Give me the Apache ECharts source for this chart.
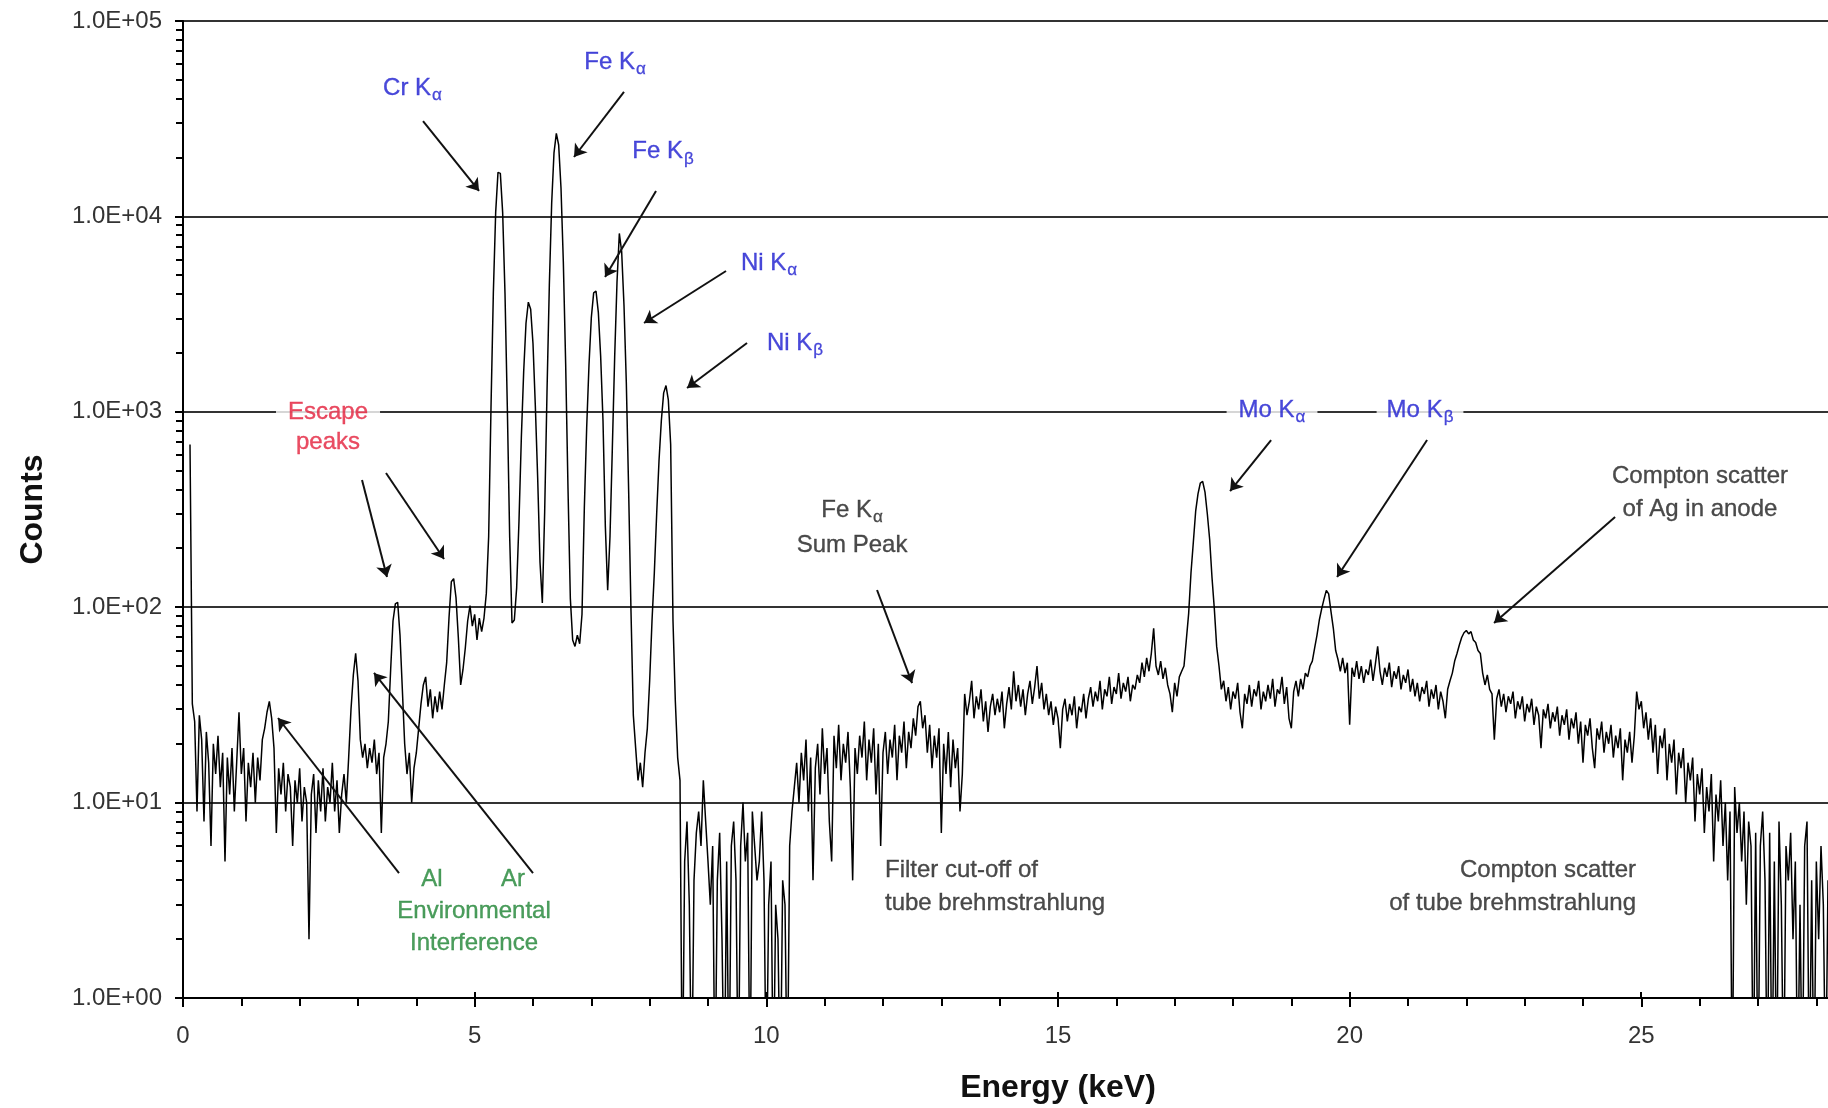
<!DOCTYPE html>
<html>
<head>
<meta charset="utf-8">
<script src="https://cdn.jsdelivr.net/npm/echarts@6/dist/echarts.min.js"></script>
<style>
html,body{margin:0;padding:0;background:#fff;}
#chart{width:1828px;height:1108px;}
</style>
</head>
<body>
<div id="chart"></div>
<script>
const FONT = '"Liberation Sans", Arial, Helvetica, sans-serif';

// Spectrum: one value per 0.04 keV channel, first channel at 0.00 keV (null = no data)
const channelWidth = 0.04;
const keV0to5 = [
  null,null,null,680,32,26,9,28,21,8,23,16,6,20,14,22,12,18,5,17,11,19,9,16,29,
  14,19,8,16,12,18,10,17,13,21,24,29,33,27,19,7,15,11,16,9,14,12,6,13,10,
  15,8,12,10,2,11,14,7,13,9,15,8,12,10,16,9,13,7,11,14,10,17,30,45,58,
  42,21,17,20,15,19,16,21,14,18,7,17,20,26,48,85,104,106,72,38,20,14,18,10,15,
  18,24,32,40,44,31,38,27,35,29,37,30,40,52,88,135,140,112,70,40,48,62,85,102,80
];
const keV5to9 = [
  92,68,88,75,88,118,230,1050,4030,10450,16800,16600,10450,4030,1050,230,83,86,126,277,735,1600,2840,3640,3350,
  2230,1070,460,170,105,306,1260,4440,11630,21150,26600,23200,13980,5840,1755,405,111,68,63,72,65,92,322,827,1740,
  3040,4060,4150,3230,1920,900,260,122,230,650,1900,4600,8180,6600,3500,1400,390,95,28,19,13,16,12,18,24,
  42,85,150,300,560,900,1250,1362,1150,680,85,33,17,13,0,5,8,3,0,4,7,9,6,13,8
];
const keV9to13 = [
  5,3,6,0,4,7,2,0,5,0,6,8,4,0,6,10,5,7,0,9,6,4,5,9,4,
  0,3,5,0,3,2,0,4,3,0,6,9,12,16,10,18,13,21,9,17,4,15,20,11,24,
  14,19,8,5,22,15,25,13,20,16,23,12,4,19,14,22,17,26,13,21,16,24,11,20,6,
  18,23,14,21,17,25,13,22,18,26,15,23,19,27,22,31,33,24,28,18,25,15,22,17,24
];
const keV13to17 = [
  7,20,14,23,12,21,15,19,9,14,36,28,33,42,27,35,30,38,26,33,23,31,36,28,34,
  29,37,24,32,39,30,47,33,40,31,38,28,36,42,32,39,50,34,41,30,36,28,33,25,31,
  27,19,30,34,26,32,28,35,24,31,29,36,27,34,39,31,37,33,42,30,38,35,44,32,39,
  36,46,34,41,37,44,33,40,38,45,41,52,44,55,47,58,78,50,45,53,43,49,40,36,29
];
const keV17to22 = [
  41,35,44,47,50,68,93,150,215,310,380,432,440,388,300,222,142,98,63,50,38,42,33,39,30,
  37,34,41,29,24,36,32,40,31,38,35,42,30,37,33,40,34,43,31,38,36,44,32,39,27,
  24,37,42,35,43,38,46,44,50,53,62,72,86,98,110,122,117,95,78,60,54,47,55,46,52,
  25,49,44,53,43,50,41,48,45,54,42,51,63,47,40,49,44,52,39,47,43,50,38,45,41,
  48,37,43,35,41,33,39,36,42,31,38,34,40,30,37,33,27,38,42,46,53,58,64,70,74
];
const keV22to28 = [
  76,73,75,68,66,60,58,46,40,45,38,36,21,34,38,31,36,29,35,32,37,27,33,30,35,
  26,32,29,34,25,31,28,19,30,27,32,24,29,26,31,22,28,25,30,21,27,24,29,20,26,
  16,25,22,27,19,15,24,21,26,18,23,20,25,17,22,19,24,13,21,18,23,16,22,37,30,
  33,24,29,21,27,18,25,14,22,19,24,13,20,16,21,11,18,15,19,10,16,13,17,8,14,
  11,15,7,12,9,14,5,11,8,13,6,10,4,9,0,12,7,10,5,9,3,8,6,0,7,
  0,6,9,4,0,7,0,5,0,8,3,0,6,4,7,2,5,0,3,0,6,8,0,4,0,
  5,2,6,3,0,4
];

const yTickLabels = ['1.0E+00','1.0E+01','1.0E+02','1.0E+03','1.0E+04','1.0E+05'];
const xMajorTicks = [0, 5, 10, 15, 20, 25];

const BLUE = '#1c1cd0', RED = '#e4203c', GREEN = '#1f8535', DARK = '#1e1e1e';

// Annotation texts, anchored in data coordinates [keV, counts]
const annotationTexts = [
  { text: '{m|Cr K}{s|α}', at: [3.934, 45400], color: BLUE },
  { text: '{m|Fe K}{s|α}', at: [7.406, 61700], color: BLUE },
  { text: '{m|Fe K}{s|β}', at: [8.229, 21400], color: BLUE },
  { text: '{m|Ni K}{s|α}', at: [10.046, 5780], color: BLUE },
  { text: '{m|Ni K}{s|β}', at: [10.492, 2250], color: BLUE },
  { text: '{m|Escape}\n{m|peaks}', at: [2.486, 836], color: RED, lh: 30, bg: true, pad: [2, 12] },
  { text: '{m|Mo K}{s|α}', at: [18.669, 1021], color: BLUE, bg: true, pad: [2, 12] },
  { text: '{m|Mo K}{s|β}', at: [21.206, 1021], color: BLUE, bg: true, pad: [2, 10] },
  { text: '{m|Fe K}{s|α}\n{m|Sum Peak}', at: [11.469, 256], color: DARK, lh: 35 },
  { text: '{m|Compton scatter}\n{m|of Ag in anode}', at: [26.006, 386], color: DARK, lh: 33 },
  { text: '{m|Filter cut-off of}\n{m|tube brehmstrahlung}', at: [12.034, 3.72], color: DARK, lh: 33, align: 'left' },
  { text: '{m|Compton scatter}\n{m|of tube brehmstrahlung}', at: [24.909, 3.72], color: DARK, lh: 33, align: 'right' },
  { text: '{m|Al}', at: [4.269, 4.06], color: GREEN },
  { text: '{m|Ar}', at: [5.657, 4.06], color: GREEN },
  { text: '{m|Environmental}\n{m|Interference}', at: [4.989, 2.31], color: GREEN, lh: 32 }
];

// Arrows: [tail, head] in data coordinates
const arrowSegments = [
  [[4.115, 30770], [5.075, 13490]],
  [[7.560, 43350], [6.703, 20140]],
  [[8.109, 13490], [7.235, 4897]],
  [[9.309, 5255], [7.903, 2848]],
  [[9.669, 2250], [8.641, 1324]],
  [[3.069, 448], [3.497, 142.7]],
  [[3.480, 486], [4.475, 176.5]],
  [[3.703, 4.36], [1.629, 27.1]],
  [[6.000, 4.36], [3.274, 46.1]],
  [[11.898, 122.5], [12.498, 40.9]],
  [[18.653, 717], [17.950, 393]],
  [[21.327, 717], [19.784, 142.7]],
  [[24.550, 289.4], [22.475, 83.0]]
];

// ---- build ----
const counts = [].concat(keV0to5, keV5to9, keV9to13, keV13to17, keV17to22, keV22to28);
const EMPTY_CHANNEL = 0.3; // zero-count channels fall below the 1-count floor (clipped by the grid)
const spectrum = [];
counts.forEach((c, i) => {
  if (c !== null) spectrum.push([+(i * channelWidth).toFixed(2), c > 0 ? c : EMPTY_CHANNEL]);
});

const yMinorTicks = [];
for (let d = 0; d < 5; d++) for (let k = 2; k <= 9; k++) yMinorTicks.push([0, k * Math.pow(10, d)]);

function richFor(color, lh) {
  return {
    m: { fontFamily: FONT, fontSize: 24, color: color, lineHeight: lh, textBorderColor: color, textBorderWidth: 0.35 },
    s: { fontFamily: FONT, fontSize: 17, color: color, lineHeight: 17, padding: [14, 0, 0, 1], textBorderColor: color, textBorderWidth: 0.3 }
  };
}
const annotationItems = annotationTexts.map(a => ({
  value: a.at,
  label: {
    show: true,
    position: 'inside',
    formatter: a.text,
    rich: richFor(a.color, a.lh || 32),
    fontFamily: FONT,
    fontSize: 24,
    color: a.color,
    align: a.align || 'center',
    verticalAlign: 'middle',
    backgroundColor: a.bg ? '#ffffff' : 'transparent',
    padding: a.pad || 0
  }
}));

const chart = echarts.init(document.getElementById('chart'), null, { renderer: 'canvas' });
chart.setOption({
  animation: false,
  backgroundColor: '#ffffff',
  textStyle: { fontFamily: FONT },
  grid: { left: 183, top: 21, width: 1750, height: 977, containLabel: false, outerBoundsMode: 'none' },
  xAxis: {
    type: 'value', min: 0, max: 30, interval: 5,
    name: 'Energy (keV)', nameLocation: 'middle', nameGap: 74,
    nameTextStyle: { fontFamily: FONT, fontSize: 32, fontWeight: 'bold', color: '#111' },
    axisLine: { show: true, onZero: false, lineStyle: { color: '#000', width: 2 } },
    axisTick: { show: true, length: 9, lineStyle: { color: '#000', width: 2 } },
    minorTick: { show: true, splitNumber: 5, length: 8, lineStyle: { color: '#000', width: 2 } },
    axisLabel: { fontFamily: FONT, fontSize: 24, color: '#333', margin: 26 },
    splitLine: { show: false }
  },
  yAxis: {
    type: 'log', logBase: 10, min: 1, max: 100000, splitNumber: 5,
    name: 'Counts', nameLocation: 'middle', nameGap: 134, nameRotate: 90,
    nameTextStyle: { fontFamily: FONT, fontSize: 32, fontWeight: 'bold', color: '#111' },
    axisLine: { show: true, onZero: false, lineStyle: { color: '#000', width: 2 } },
    axisTick: { show: true, length: 8, lineStyle: { color: '#000', width: 2 } },
    axisLabel: {
      fontFamily: FONT, fontSize: 24, color: '#333', margin: 21,
      formatter: v => yTickLabels[Math.round(Math.log10(v))]
    },
    splitLine: { show: true, lineStyle: { color: '#333', width: 2 } }
  },
  series: [
    {
      type: 'line', name: 'spectrum', data: spectrum,
      showSymbol: false, symbol: 'none', clip: true, silent: true, z: 3,
      lineStyle: { color: '#000', width: 1.5 }
    },
    {
      type: 'custom', name: 'yMinorTicks', data: yMinorTicks, clip: false, silent: true, z: 4,
      renderItem: (params, api) => {
        const p = api.coord([0, api.value(1)]);
        const y = Math.round(p[1]);
        return { type: 'line', shape: { x1: p[0] - 7, y1: y, x2: p[0], y2: y }, style: { stroke: '#000', lineWidth: 2 } };
      }
    },
    {
      type: 'custom', name: 'xUpTicks', data: xMajorTicks.map(v => [v, 1]), clip: false, silent: true, z: 4,
      renderItem: (params, api) => {
        const p = api.coord([api.value(0), 1]);
        const x = Math.round(p[0]);
        return { type: 'line', shape: { x1: x, y1: p[1] - 6, x2: x, y2: p[1] }, style: { stroke: '#000', lineWidth: 2 } };
      }
    },
    {
      type: 'scatter', name: 'annotations', data: annotationItems,
      symbolSize: 0, silent: true, z: 10,
      emphasis: { disabled: true },
      markLine: {
        silent: true, symbol: ['none', 'arrow'], symbolSize: 12,
        label: { show: false },
        emphasis: { disabled: true },
        lineStyle: { color: '#111', width: 2, type: 'solid' },
        data: arrowSegments.map(s => [{ coord: s[0] }, { coord: s[1] }])
      }
    }
  ]
});
</script>
</body>
</html>
